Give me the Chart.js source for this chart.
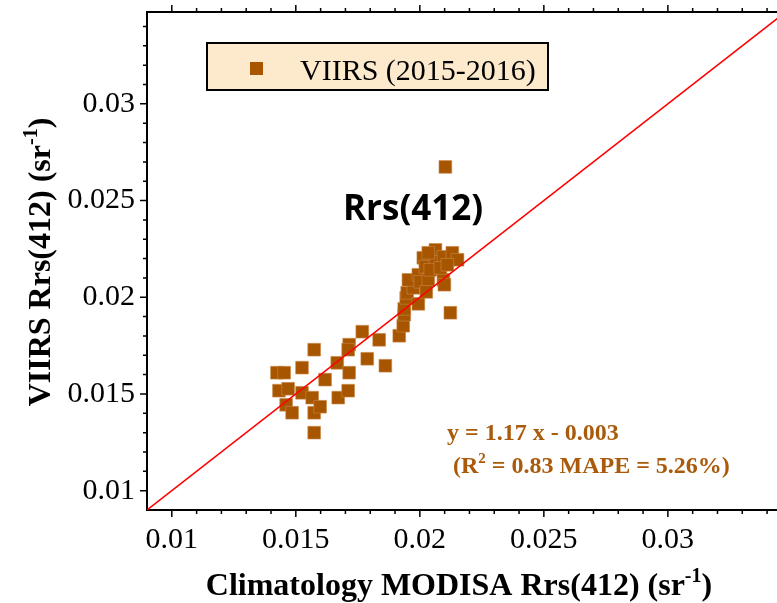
<!DOCTYPE html>
<html>
<head>
<meta charset="utf-8">
<script src="https://cdn.jsdelivr.net/npm/chart.js@4.4.1/dist/chart.umd.min.js"></script>
<style>
  html, body { margin: 0; padding: 0; background: #fff; overflow: hidden; }
  canvas { display: block; }
</style>
</head>
<body>
<canvas id="scatter" width="777" height="603"></canvas>
<script>
// matchups: climatology MODISA Rrs(412) against VIIRS Rrs(412), both in sr^-1
const modisa = [
  0.01424, 0.01453, 0.01432, 0.01469, 0.01461, 0.01485, 0.01525, 0.01525, 0.01566, 0.01574,
  0.01574, 0.01598, 0.01574, 0.01618, 0.01667, 0.01671, 0.01715, 0.01711, 0.01715, 0.01711,
  0.01768, 0.01788, 0.01836, 0.01861, 0.01917, 0.01933, 0.01937, 0.01937, 0.01945, 0.01949,
  0.01994, 0.01974, 0.01954, 0.01994, 0.02002, 0.02014, 0.02022, 0.02034, 0.02063, 0.02063,
  0.02095, 0.02095, 0.02131, 0.02152, 0.02123, 0.02103, 0.02042, 0.02083, 0.02111, 0.02026,
  0.02099, 0.02034
];
const viirs = [
  0.01610, 0.01610, 0.01517, 0.01527, 0.01444, 0.01403, 0.01636, 0.01506, 0.01481, 0.01729,
  0.01403, 0.01434, 0.01300, 0.01574, 0.01661, 0.01481, 0.01755, 0.01729, 0.01610, 0.01517,
  0.01822, 0.01682, 0.01780, 0.01646, 0.01801, 0.01853, 0.01910, 0.01940, 0.01997, 0.02023,
  0.01966, 0.02049, 0.02090, 0.02116, 0.02080, 0.02204, 0.02158, 0.02090, 0.02245, 0.02183,
  0.02209, 0.02090, 0.02230, 0.02194, 0.01920, 0.02674, 0.02142, 0.02152, 0.02168, 0.02028,
  0.02065, 0.02230
];
const xTicks = [0.01, 0.015, 0.02, 0.025, 0.03];
const yTicks = [0.01, 0.015, 0.02, 0.025, 0.03];
const oneToOne = [0.009, 0.035];

const axisMin = 0.009;
const xMax = 0.0344;
const yMax = 0.03475;

const brown = '#a85500';
const serif = '"Liberation Serif", "Times New Roman", serif';

// draws text pieces one after another (for superscripts); align 'center' or 'left'
function richText(ctx, parts, x, y, align) {
  let w = 0;
  parts.forEach(p => { ctx.font = p[1]; w += ctx.measureText(p[0]).width; });
  let cx = align === 'center' ? x - w / 2 : x;
  ctx.textAlign = 'left';
  ctx.textBaseline = 'alphabetic';
  parts.forEach(p => {
    ctx.font = p[1];
    ctx.fillText(p[0], cx, y - (p[2] || 0));
    cx += ctx.measureText(p[0]).width;
  });
}

// fixed axis box sizes, no extra label padding
function fixBox(size) {
  return s => {
    if (s.isHorizontal()) s.height = size; else s.width = size;
    s.paddingTop = 0; s.paddingBottom = 0; s.paddingLeft = 0; s.paddingRight = 0;
  };
}

const decorations = {
  id: 'decorations',
  beforeDraw(chart) {
    const ctx = chart.ctx;
    ctx.save();
    ctx.fillStyle = '#fff';
    ctx.fillRect(0, 0, chart.width, chart.height);
    ctx.restore();
  },
  afterDraw(chart) {
    const { ctx, chartArea: a, scales: { x, y } } = chart;
    ctx.save();

    // major and minor tick marks, pointing outwards
    ctx.strokeStyle = '#000';
    ctx.lineWidth = 1.5;
    ctx.beginPath();
    for (let i = 10; i <= 35; i++) {
      const v = i / 1000;
      const len = i % 5 === 0 ? 6 : 3;
      if (v <= x.max) {
        const px = x.getPixelForValue(v);
        ctx.moveTo(px, a.bottom + 1); ctx.lineTo(px, a.bottom + 1 + len);
        ctx.moveTo(px, a.top - 1); ctx.lineTo(px, a.top - 1 - len);
      }
      if (v <= y.max) {
        const py = y.getPixelForValue(v);
        ctx.moveTo(a.left - 1, py); ctx.lineTo(a.left - 1 - len, py);
      }
    }
    ctx.stroke();

    // axis titles
    ctx.fillStyle = '#000';
    const tf = 'bold 32px ' + serif;
    const sf = 'bold 20px ' + serif;
    richText(ctx, [['Climatology MODISA Rrs(412) (sr', tf], ['-1', sf, 13], [')', tf]], 459, 595, 'center');
    ctx.save();
    ctx.translate(50, 262);
    ctx.rotate(-Math.PI / 2);
    richText(ctx, [['VIIRS Rrs(412) (sr', tf], ['-1', sf, 13], [')', tf]], 0, 0, 'center');
    ctx.restore();

    // legend
    ctx.fillStyle = '#fde9cc';
    ctx.fillRect(207, 43, 341, 47);
    ctx.lineWidth = 2;
    ctx.strokeRect(207, 43, 341, 47);
    ctx.fillStyle = brown;
    ctx.fillRect(250, 62, 13, 13);
    ctx.fillStyle = '#000';
    richText(ctx, [['VIIRS (2015-2016)', '30px ' + serif]], 300, 80, 'left');

    // band label
    richText(ctx, [['Rrs(412)', 'bold 35px "Open Sans", sans-serif']], 343, 220, 'left');

    // regression statistics
    ctx.fillStyle = '#a95a0a';
    const ef = 'bold 24px ' + serif;
    richText(ctx, [['y = 1.17 x - 0.003', ef]], 447, 440, 'left');
    richText(ctx, [['(R', ef], ['2', 'bold 15px ' + serif, 10], [' = 0.83 MAPE = 5.26%)', ef]], 453, 473, 'left');

    ctx.restore();
  }
};

const tickFont = { family: serif, size: 30 };

new Chart(document.getElementById('scatter'), {
  data: {
    datasets: [
      {
        type: 'line',
        label: '1:1',
        data: oneToOne.map(v => ({ x: v, y: v })),
        borderColor: '#ff0000',
        borderWidth: 1.5,
        pointRadius: 0,
        order: 0
      },
      {
        type: 'scatter',
        label: 'VIIRS (2015-2016)',
        data: modisa.map((m, i) => ({ x: m, y: viirs[i] })),
        pointStyle: 'rect',
        pointRadius: 9,
        pointHoverRadius: 9,
        backgroundColor: brown,
        borderColor: '#c98a4a',
        borderWidth: 0.6,
        order: 1
      }
    ]
  },
  options: {
    responsive: false,
    animation: false,
    devicePixelRatio: 1,
    layout: { padding: 0, autoPadding: false },
    plugins: { legend: { display: false }, tooltip: { enabled: false } },
    scales: {
      x: {
        type: 'linear',
        position: 'bottom',
        min: axisMin,
        max: xMax,
        afterBuildTicks: s => { s.ticks = xTicks.map(v => ({ value: v })); },
        afterFit: fixBox(93),
        grid: { display: true, drawOnChartArea: false, drawTicks: false },
        border: { display: true, color: '#000', width: 2 },
        ticks: {
          autoSkip: false, maxRotation: 0, padding: 12, color: '#000', font: tickFont,
          callback: v => String(+v.toFixed(3))
        }
      },
      x2: {
        type: 'linear',
        position: 'top',
        display: true,
        min: axisMin,
        max: xMax,
        afterFit: fixBox(12),
        grid: { display: true, drawOnChartArea: false, drawTicks: false },
        border: { display: true, color: '#000', width: 2 },
        ticks: { display: false }
      },
      y: {
        type: 'linear',
        position: 'left',
        min: axisMin,
        max: yMax,
        afterBuildTicks: s => { s.ticks = yTicks.map(v => ({ value: v })); },
        afterFit: fixBox(147),
        grid: { display: true, drawOnChartArea: false, drawTicks: false },
        border: { display: true, color: '#000', width: 2 },
        ticks: {
          autoSkip: false, padding: 12, color: '#000', font: tickFont,
          callback: v => String(+v.toFixed(3))
        }
      }
    }
  },
  plugins: [decorations]
});
</script>
</body>
</html>
